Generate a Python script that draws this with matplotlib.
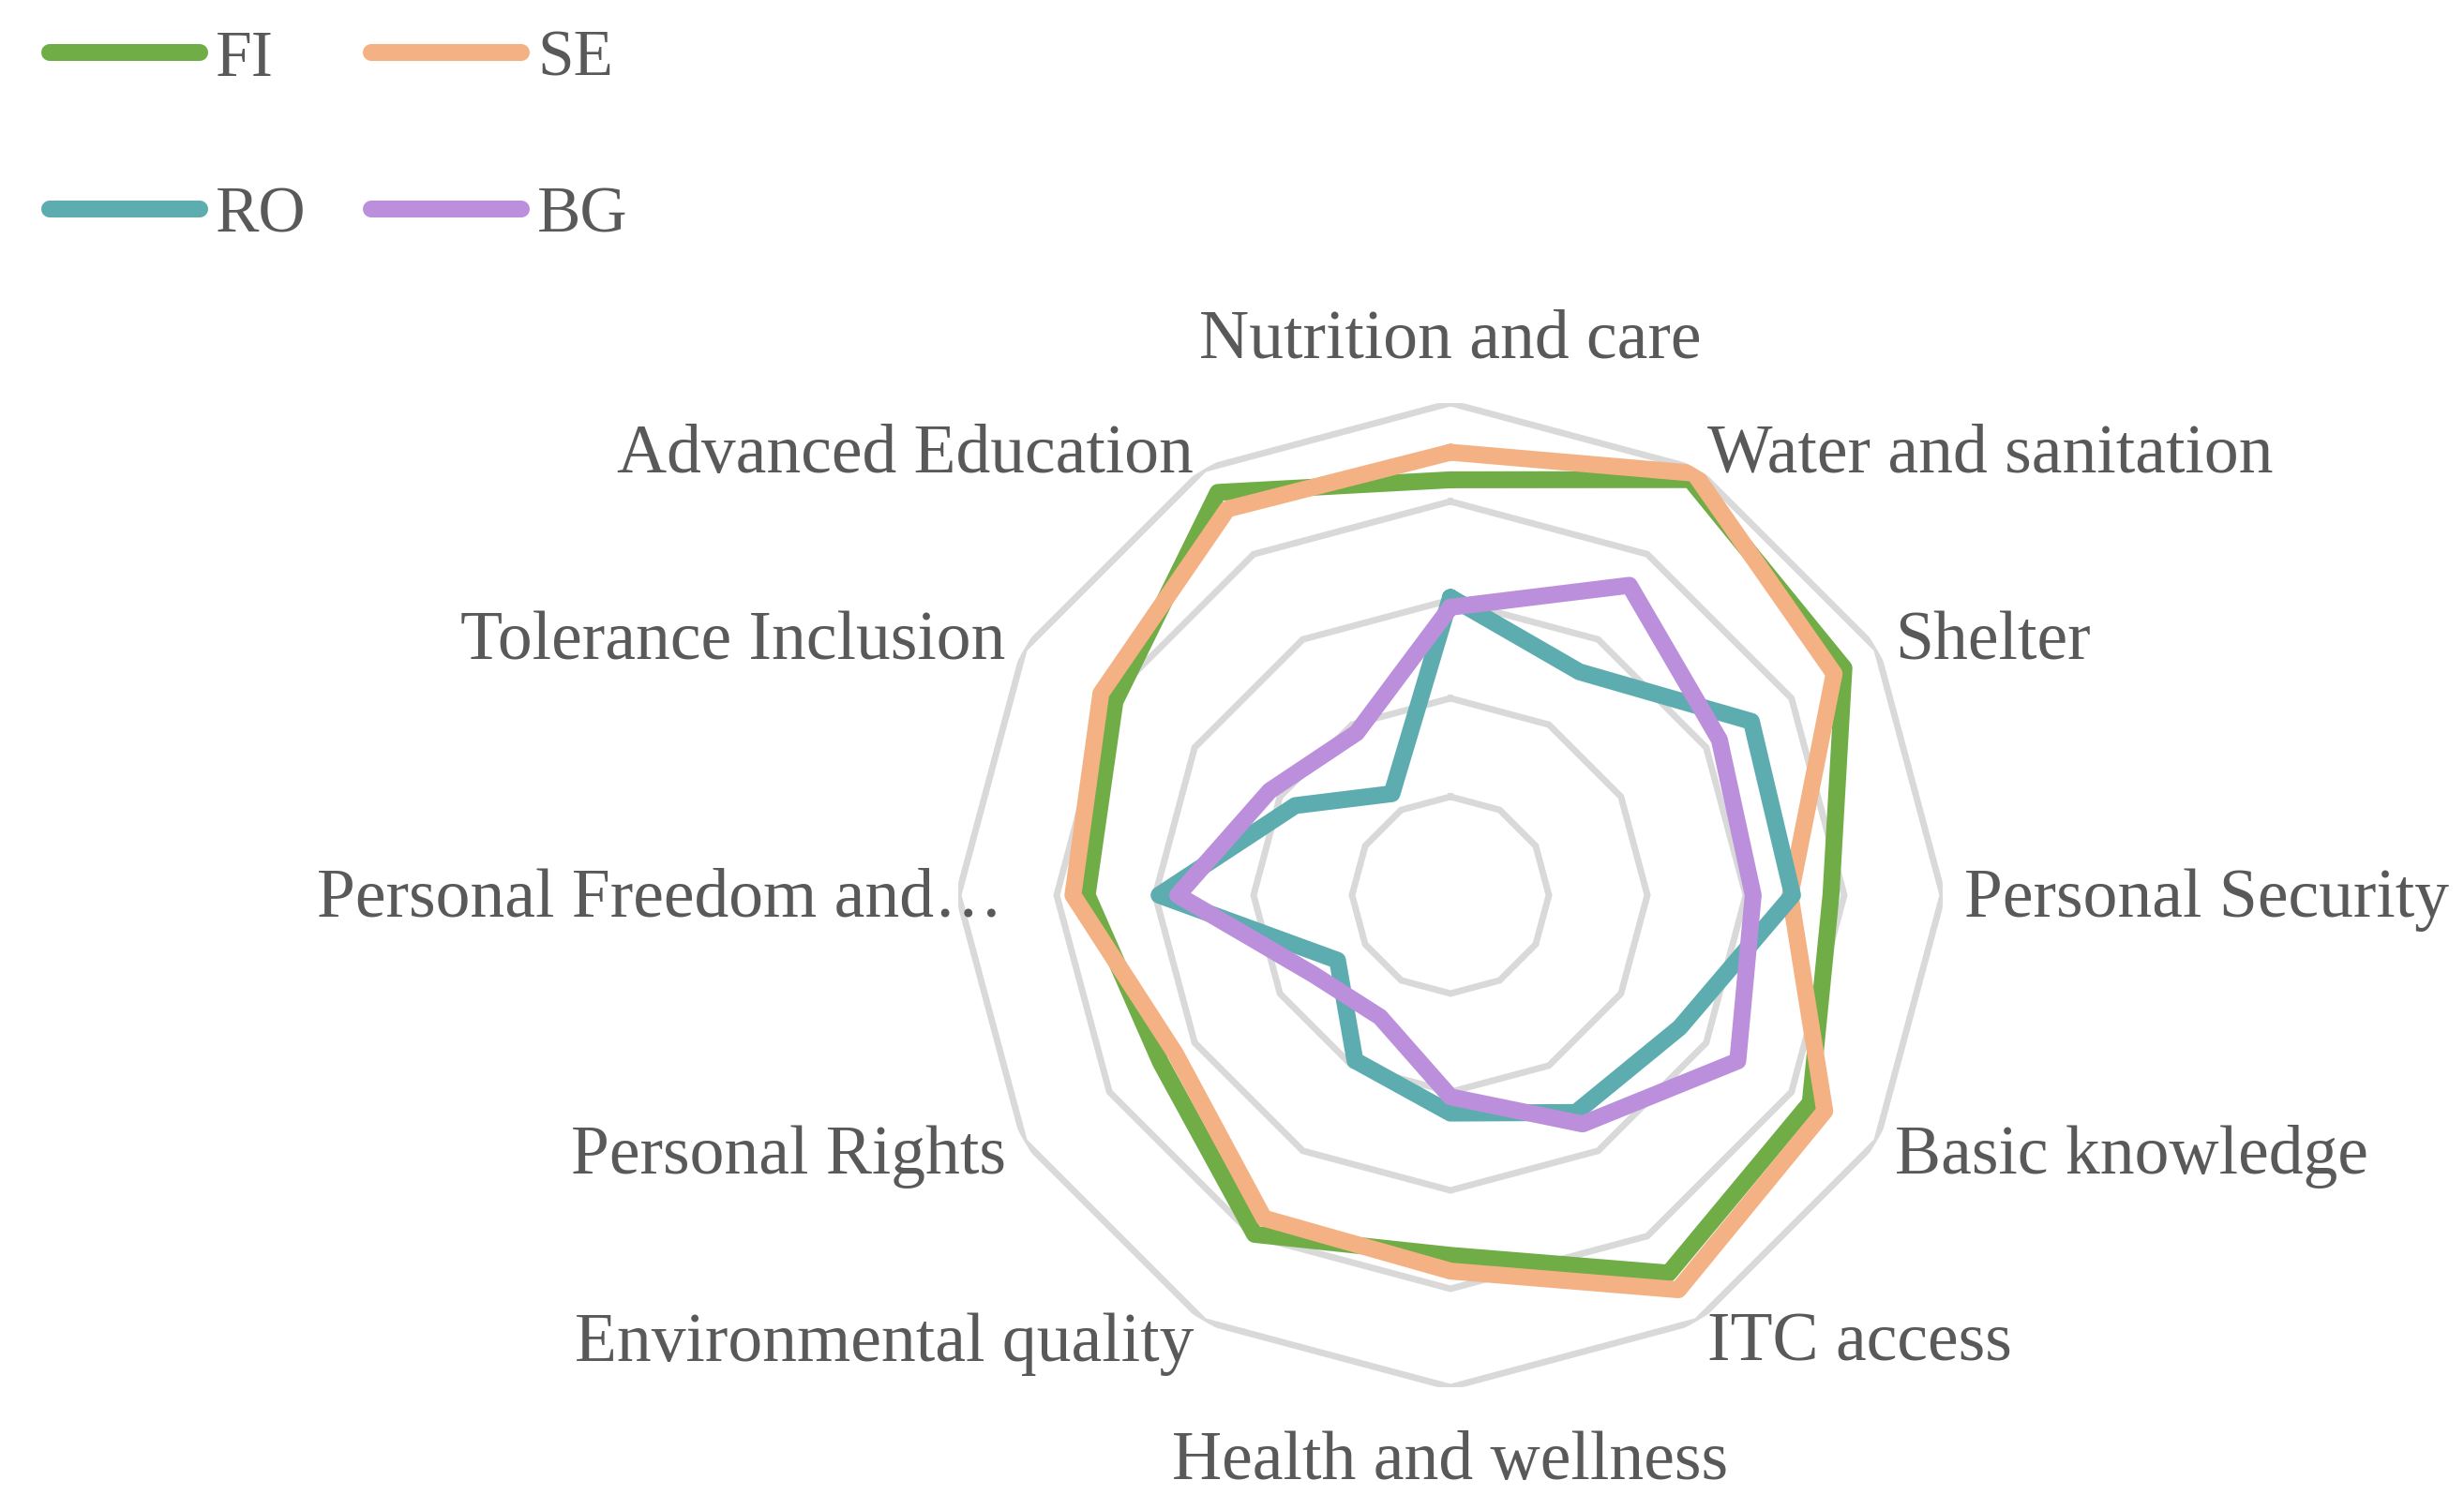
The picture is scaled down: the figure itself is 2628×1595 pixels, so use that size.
import numpy as np
import matplotlib
matplotlib.use("Agg")
import matplotlib.pyplot as plt
from matplotlib.transforms import offset_copy

categories = ["Nutrition and care", "Water and sanitation", "Shelter",
              "Personal Security", "Basic knowledge", "ITC access",
              "Health and wellness", "Environmental quality", "Personal Rights",
              "Personal Freedom and\u2026", "Tolerance Inclusion", "Advanced Education"]
fi = [84.4, 97.5, 92.3, 77.3, 84.4, 88.7, 73.2, 79.6, 68.0, 73.8, 78.7, 94.5]
se = [90.0, 99.0, 90.0, 69.0, 87.8, 92.6, 76.4, 75.8, 64.5, 76.7, 82.0, 90.6]
ro = [60.5, 52.4, 70.6, 69.5, 53.8, 51.0, 44.3, 38.8, 26.5, 59.2, 36.4, 23.8]
bg = [58.5, 72.7, 63.1, 61.5, 67.4, 53.7, 41.0, 28.6, 32.2, 55.4, 42.4, 38.1]
series = [("FI", fi, "#70AD47"), ("SE", se, "#F4B183"),
          ("RO", ro, "#5DADB0"), ("BG", bg, "#BB8FDB")]
rings = [20, 40, 60, 80, 100]

TXT = "#595959"
plt.rcParams["font.family"] = ["Liberation Serif", "DejaVu Serif"]

W, H = 2628, 1595
fig = plt.figure(figsize=(W / 100, H / 100), dpi=100)
cx, cy, R = 1547, 955, 525
ax = fig.add_axes([(cx - R) / W, (H - cy - R) / H, 2 * R / W, 2 * R / H],
                  projection="polar")
ax.set_theta_zero_location("N")
ax.set_theta_direction(-1)
ax.set_ylim(0, 100)
ax.grid(False)
ax.set_xticks([])
ax.set_yticks([])
ax.spines["polar"].set_visible(False)

n = len(categories)
theta = np.arange(n) * 2 * np.pi / n
tc = np.append(theta, theta[0])

for v in rings:
    ax.plot(tc, [v] * (n + 1), color="#D9D9D9", lw=5, zorder=1,
            solid_joinstyle="miter")

handles = {}
for name, vals, col in series:
    ln, = ax.plot(tc, vals + vals[:1], color=col, lw=13, label=name,
                  solid_joinstyle="round", solid_capstyle="round", zorder=3)
    handles[name] = ln

for i, lab in enumerate(categories):
    deg = np.degrees(theta[i])
    dy = -5
    if deg in (0, 180):
        ha, r = "center", 113.5
        if deg == 180:
            dy = -9
    elif deg < 180:
        ha, r = "left", 104.3
    else:
        ha, r = "right", 104.3
    if lab.endswith("\u2026"):
        r = 91.0
    tr = offset_copy(ax.transData, fig=fig, x=0, y=dy, units="dots")
    ax.text(theta[i], r, lab, ha=ha, va="center", fontsize=53, color=TXT,
            transform=tr)

order = ["FI", "RO", "SE", "BG"]
fig.legend([handles[k] for k in order], order, loc="upper left", ncol=2,
           bbox_to_anchor=(53 / W, 1 - 32 / H), frameon=False, fontsize=50,
           labelcolor=TXT, handlelength=2.3, handletextpad=0.25,
           columnspacing=1.0, labelspacing=1.48, borderpad=0, borderaxespad=0)

fig.savefig("out.png", dpi=100, facecolor="white")
